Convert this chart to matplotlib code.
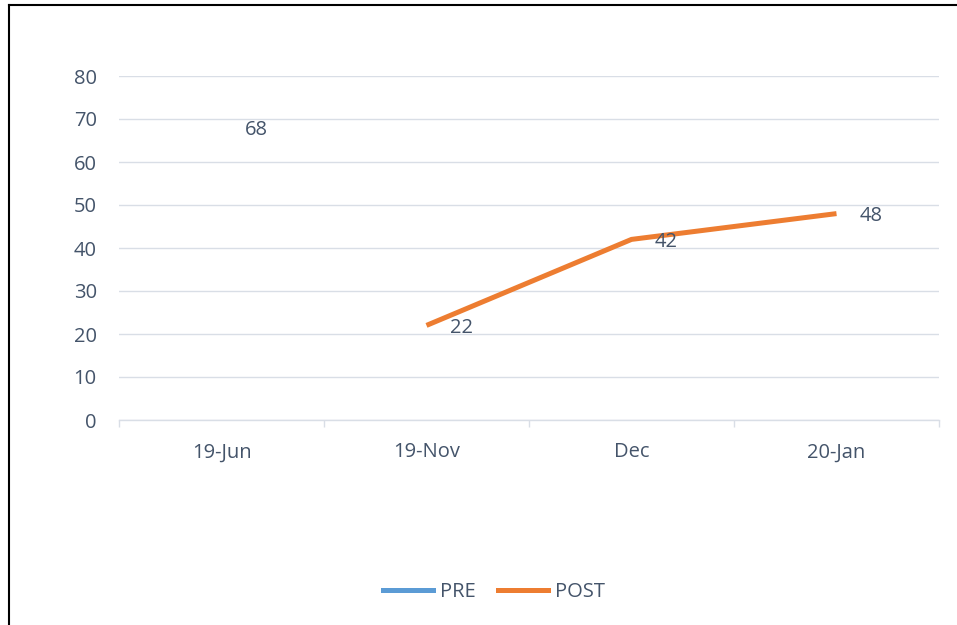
import matplotlib
matplotlib.use("Agg")
import matplotlib.pyplot as plt
from matplotlib.lines import Line2D
import numpy as np

categories = ["19-Jun", "19-Nov", "Dec", "20-Jan"]
pre = [68, None, None, None]
post = [None, 22, 42, 48]
yticks = [0, 10, 20, 30, 40, 50, 60, 70, 80]

txt = "#44546A"
grid = "#D9DEE6"
blue = "#5B9BD5"
orange = "#ED7D31"
fs = 14.5

plt.rcParams['font.family'] = ['Open Sans', 'DejaVu Sans']

fig = plt.figure(figsize=(9.57, 6.25), dpi=100)
W, H = 957, 625
ax = fig.add_axes([119 / W, 1 - 420 / H, 820 / W, (420 - 76) / H])

x = np.arange(len(categories))

def seg(vals):
    xs = [i for i, v in enumerate(vals) if v is not None]
    ys = [v for v in vals if v is not None]
    return xs, ys

px, py = seg(pre)
qx, qy = seg(post)
ax.plot(px, py, color=blue, lw=3.6, solid_capstyle='butt')
ax.plot(qx, qy, color=orange, lw=3.6, solid_capstyle='butt')

for xs, ys in [(px, py), (qx, qy)]:
    for xi, yi in zip(xs, ys):
        ax.annotate(str(yi), (xi, yi), xytext=(17, -2), textcoords='offset points',
                    ha='left', va='center', fontsize=fs, color=txt)

ax.set_xlim(-0.5, len(categories) - 0.5)
ax.set_ylim(0, 80)
ax.set_yticks(yticks)
ax.set_xticks(x)
ax.set_xticklabels(categories)
ax.set_xticks(np.arange(-0.5, len(categories), 1), minor=True)
ax.tick_params(axis='x', which='major', length=0, pad=16, labelsize=fs, labelcolor=txt)
ax.tick_params(axis='x', which='minor', length=5, color=grid, width=1)
ax.tick_params(axis='y', length=0, pad=16, labelsize=fs, labelcolor=txt)

ax.grid(axis='y', color=grid, lw=1)
ax.set_axisbelow(True)
for s in ['top', 'right', 'left']:
    ax.spines[s].set_visible(False)
ax.spines['bottom'].set_color(grid)
ax.spines['bottom'].set_linewidth(1)

handles = [Line2D([0], [0], color=blue, lw=3.6), Line2D([0], [0], color=orange, lw=3.6)]
leg = fig.legend(handles, ["PRE", "POST"], loc='center', bbox_to_anchor=(494 / W, 1 - 592 / H),
                 ncol=2, frameon=False, fontsize=fs, handlelength=2.5, handletextpad=0.35,
                 columnspacing=1.1)
for t in leg.get_texts():
    t.set_color(txt)

# outer border (left and top)
fig.add_artist(Line2D([8.5 / W, 8.5 / W], [0, 1 - 5 / H], color='black', lw=1.5, transform=fig.transFigure))
fig.add_artist(Line2D([8.5 / W, 1], [1 - 5 / H, 1 - 5 / H], color='black', lw=1.5, transform=fig.transFigure))

fig.savefig("out.png", dpi=100)
